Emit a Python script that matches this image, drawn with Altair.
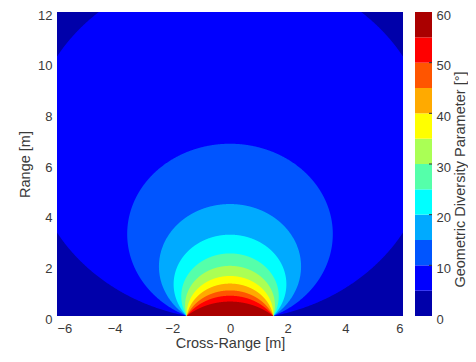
import numpy as np
import pandas as pd
import altair as alt

# ---- values ----
BAND_EDGES = [0, 5, 10, 15, 20, 25, 30, 35, 40, 45, 50, 55, 60]
BAND_COLORS = ["#0000AA", "#0000FF", "#0055FF", "#00AAFF", "#00FFFF", "#55FFAA",
               "#AAFF55", "#FFFF00", "#FFAA00", "#FF5500", "#FF0000", "#AA0000"]
# contour boundary levels and the range (m) where each contour crosses x = 0
CONTOUR_LEVELS = [5, 10, 15, 20, 25, 30, 35, 40, 45, 50, 55]
CONTOUR_APEX_Y = [13.7, 6.8, 4.42, 3.21, 2.47, 1.98, 1.58, 1.28, 1.01, 0.80, 0.57]
# every contour meets the x axis at the two antenna positions
SENSOR_X = [-1.5, 1.5]
X_TICKS = [-6, -4, -2, 0, 2, 4, 6]
Y_TICKS = [0, 2, 4, 6, 8, 10, 12]
CB_TICKS = [0, 10, 20, 30, 40, 50, 60]
CB_INNER_TICKS = [10, 20, 30, 40, 50]

FONT = "Liberation Sans"
TXT = "#3a3a3a"


def contour_region(apex):
    """Region (value >= level): arc through both antennas with the given apex."""
    a = SENSOR_X[1]
    c = (apex ** 2 - a ** 2) / (2 * apex)
    r = (apex ** 2 + a ** 2) / (2 * apex)
    half = r if c >= 0 else a
    t = np.linspace(np.pi, 0, 721)
    xs = np.concatenate([half * np.cos(t), [-a, a]])
    xs = np.unique(np.clip(xs, -half, half))
    s = np.sqrt(np.clip(r ** 2 - xs ** 2, 0, None))
    return pd.DataFrame({"x": xs, "y": c + s, "y2": np.maximum(0, c - s)})


x_scale = alt.Scale(domain=[-6, 6], nice=False, zero=False)
y_scale = alt.Scale(domain=[0, 12], nice=False, zero=False)
x_axis = alt.Axis(values=X_TICKS, title="Cross-Range [m]", grid=False, ticks=False,
                  domain=False, labelPadding=6, titlePadding=1, format="d")
y_axis = alt.Axis(values=Y_TICKS, title="Range [m]", grid=False, ticks=False,
                  domain=False, labelPadding=5, titlePadding=5, format="d",
                  labelOffset=3)

layers = []
for lvl, apex in zip(CONTOUR_LEVELS, CONTOUR_APEX_Y):
    col = BAND_COLORS[BAND_EDGES.index(lvl)]
    layers.append(
        alt.Chart(contour_region(apex)).mark_area(
            clip=True, color=col, opacity=1, orient="vertical", strokeWidth=0
        ).encode(
            x=alt.X("x:Q", scale=x_scale, axis=x_axis),
            y=alt.Y("y:Q", scale=y_scale, axis=y_axis),
            y2="y2:Q",
        )
    )
main = alt.layer(*layers)

cb_df = pd.DataFrame({
    "lo": BAND_EDGES[:-1],
    "hi": BAND_EDGES[1:],
    "col": BAND_COLORS,
})
cb_scale = alt.Scale(domain=[0, 60], nice=False, zero=False)
cb_axis = alt.Axis(orient="right", offset=29, values=CB_TICKS, ticks=False, domain=False,
                   grid=False, labelPadding=4, labelOffset=3,
                   title="Geometric Diversity Parameter [°]",
                   titleAngle=270, titleBaseline="top", titlePadding=3, titleY=167)
cb_rect = alt.Chart(cb_df).mark_rect().encode(
    y=alt.Y("lo:Q", scale=cb_scale, axis=cb_axis),
    y2="hi:Q",
    x=alt.value(358),
    x2=alt.value(375),
    color=alt.Color("col:N", scale=None),
)
cb_ticks = alt.Chart(pd.DataFrame({"t": CB_INNER_TICKS})).mark_rule(
    color="#333333", strokeWidth=1
).encode(
    y=alt.Y("t:Q", scale=cb_scale, axis=cb_axis),
    x=alt.value(372),
    x2=alt.value(375),
)
colorbar = alt.layer(cb_rect, cb_ticks)

chart = alt.layer(main, colorbar).resolve_scale(y="independent").properties(
    width=346,
    height=304,
    padding={"left": 49, "top": 4, "right": 65, "bottom": 38},
    autosize=alt.AutoSizeParams(type="none"),
).configure_view(
    fill="#0000AA", stroke=None
).configure_axis(
    labelFont=FONT, labelFontSize=13, labelColor=TXT,
    titleFont=FONT, titleFontSize=14.5, titleColor=TXT, titleFontWeight="normal",
)

chart.save("out.html", embed_options={"renderer": "svg", "actions": False})
